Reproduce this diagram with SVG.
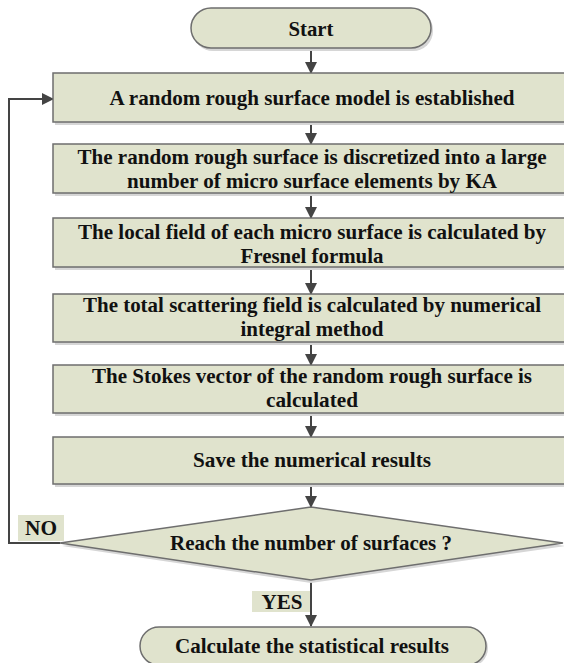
<svg xmlns="http://www.w3.org/2000/svg" width="564" height="663" viewBox="0 0 564 663">
<defs>
<style>
.box{fill:#e0e3cd;stroke:#6e6e6e;stroke-width:1.5}
.sh{fill:#d6d6d6}
.lbl{fill:#e0e3cd}
.t{font-family:"Liberation Serif","Tinos","Times New Roman","DejaVu Serif Condensed","DejaVu Serif",serif;font-weight:bold;font-size:21px;fill:#111;text-anchor:middle}
.c{fill:none;stroke:#444;stroke-width:2}
</style>
<marker id="ah" viewBox="0 0 12 12" refX="11" refY="6" markerWidth="12" markerHeight="12" markerUnits="userSpaceOnUse" orient="auto">
<path d="M0,0 L12,6 L0,12 Z" fill="#444"/>
</marker>
</defs>
<rect width="564" height="663" fill="#fff"/>
<g id="connectors">
<line class="c" x1="311" y1="48" x2="311" y2="73" marker-end="url(#ah)"/>
<line class="c" x1="311" y1="122" x2="311" y2="144" marker-end="url(#ah)"/>
<line class="c" x1="311" y1="193" x2="311" y2="218" marker-end="url(#ah)"/>
<line class="c" x1="311" y1="267" x2="311" y2="294" marker-end="url(#ah)"/>
<line class="c" x1="311" y1="342" x2="311" y2="365" marker-end="url(#ah)"/>
<line class="c" x1="311" y1="413" x2="311" y2="437" marker-end="url(#ah)"/>
<line class="c" x1="311" y1="484" x2="311" y2="507" marker-end="url(#ah)"/>
<line class="c" x1="311" y1="580" x2="311" y2="626" marker-end="url(#ah)"/>
<polyline class="c" points="60,543 9,543 9,99 53,99" marker-end="url(#ah)"/>
</g>
<g id="start">
<rect class="sh" x="193" y="10" width="240" height="41" rx="20"/>
<rect class="box" x="191" y="8" width="240" height="40" rx="20"/>
<text class="t" x="311" y="36" textLength="45" lengthAdjust="spacingAndGlyphs">Start</text>
</g>
<g id="n1">
<rect class="sh" x="55" y="76" width="520" height="49"/>
<rect class="box" x="53" y="73" width="520" height="49"/>
<text class="t" x="312" y="105" textLength="405" lengthAdjust="spacingAndGlyphs">A random rough surface model is established</text>
</g>
<g id="n2">
<rect class="sh" x="55" y="147" width="520" height="49"/>
<rect class="box" x="53" y="144" width="520" height="49"/>
<text class="t" x="312" y="164" textLength="469" lengthAdjust="spacingAndGlyphs">The random rough surface is discretized into a large</text>
<text class="t" x="312" y="188" textLength="370" lengthAdjust="spacingAndGlyphs">number of micro surface elements by KA</text>
</g>
<g id="n3">
<rect class="sh" x="55" y="221" width="520" height="49"/>
<rect class="box" x="53" y="218" width="520" height="49"/>
<text class="t" x="312" y="239" textLength="468" lengthAdjust="spacingAndGlyphs">The local field of each micro surface is calculated by</text>
<text class="t" x="312" y="263" textLength="143" lengthAdjust="spacingAndGlyphs">Fresnel formula</text>
</g>
<g id="n4">
<rect class="sh" x="55" y="297" width="520" height="48"/>
<rect class="box" x="53" y="294" width="520" height="48"/>
<text class="t" x="312" y="312" textLength="458" lengthAdjust="spacingAndGlyphs">The total scattering field is calculated by numerical</text>
<text class="t" x="312" y="336" textLength="143" lengthAdjust="spacingAndGlyphs">integral method</text>
</g>
<g id="n5">
<rect class="sh" x="55" y="368" width="520" height="48"/>
<rect class="box" x="53" y="365" width="520" height="48"/>
<text class="t" x="312" y="383" textLength="440" lengthAdjust="spacingAndGlyphs">The Stokes vector of the random rough surface is</text>
<text class="t" x="312" y="407" textLength="92" lengthAdjust="spacingAndGlyphs">calculated</text>
</g>
<g id="n6">
<rect class="sh" x="55" y="440" width="520" height="47"/>
<rect class="box" x="53" y="437" width="520" height="47"/>
<text class="t" x="312" y="467" textLength="238" lengthAdjust="spacingAndGlyphs">Save the numerical results</text>
</g>
<g id="decision">
<polygon class="sh" points="311,510 565,546 311,583 62,546"/>
<polygon class="box" points="311,507 563,543 311,580 60,543"/>
<text class="t" x="311" y="550" textLength="282" lengthAdjust="spacingAndGlyphs">Reach the number of surfaces ?</text>
</g>
<g id="label-no">
<rect class="lbl" x="18" y="515" width="46" height="26"/>
<text class="t" x="41" y="535" textLength="32" lengthAdjust="spacingAndGlyphs">NO</text>
</g>
<g id="label-yes">
<rect class="lbl" x="252" y="591" width="58" height="21"/>
<text class="t" x="282" y="609" textLength="41" lengthAdjust="spacingAndGlyphs">YES</text>
</g>
<g id="end">
<rect class="sh" x="142" y="629" width="346" height="38" rx="19"/>
<rect class="box" x="140" y="627" width="346" height="38" rx="19"/>
<text class="t" x="312" y="653" textLength="274" lengthAdjust="spacingAndGlyphs">Calculate the statistical results</text>
</g>
</svg>
